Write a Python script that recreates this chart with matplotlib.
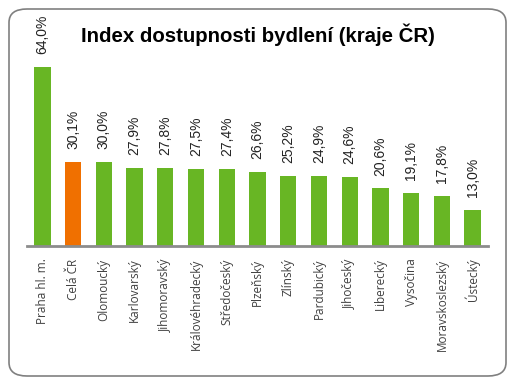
import matplotlib.pyplot as plt
from matplotlib.patches import FancyBboxPatch

# Data
kraje = ["Praha hl. m.", "Celá ČR", "Olomoucký", "Karlovarský", "Jihomoravský",
         "Královéhradecký", "Středočeský", "Plzeňský", "Zlínský", "Pardubický",
         "Jihočeský", "Liberecký", "Vysočina", "Moravskoslezský", "Ústecký"]
hodnoty = [64.0, 30.1, 30.0, 27.9, 27.8, 27.5, 27.4, 26.6, 25.2, 24.9,
           24.6, 20.6, 19.1, 17.8, 13.0]
zvyraznit = "Celá ČR"

green = "#68b624"
orange = "#f07000"

W, H = 515, 385
fig = plt.figure(figsize=(W / 100, H / 100), dpi=100)

# rounded frame
frame = FancyBboxPatch((9 / W, 9 / H), 497 / W, 367 / H,
                       boxstyle="round,pad=0,rounding_size=0.035",
                       transform=fig.transFigure, facecolor="none",
                       edgecolor="#808080", linewidth=1.2, zorder=-1)
fig.patches.append(frame)

# axes placed in pixels
left, right, base, top = 27, 488, 246, 67
ax = fig.add_axes([left / W, (H - base) / H, (right - left) / W, (base - top) / H])
ax.patch.set_visible(False)

n = len(kraje)
x = list(range(n))
colors = [orange if k == zvyraznit else green for k in kraje]
ax.bar(x, hodnoty, width=0.53, color=colors)

for xi, v in zip(x, hodnoty):
    ax.text(xi, v + 4.6, f"{v:.1f}%".replace(".", ","), rotation=90,
            ha="center", va="bottom", fontsize=10, color="#222222",
            family="Liberation Sans", clip_on=False)

ax.set_xlim(-0.5, n - 0.5)
ax.set_ylim(0, 64)
ax.set_xticks(x)
ax.set_xticklabels(kraje, rotation=90, fontsize=8.5, color="#404040",
                   family="Open Sans")
ax.tick_params(axis="x", length=0, pad=9)
ax.set_yticks([])
for s in ["top", "right", "left"]:
    ax.spines[s].set_visible(False)
ax.spines["bottom"].set_color("#8c8c8c")
ax.spines["bottom"].set_linewidth(2)

fig.text(258 / W, 1 - 35 / H, "Index dostupnosti bydlení (kraje ČR)",
         ha="center", va="center", fontsize=14.7, fontweight="bold",
         family="Liberation Sans", color="black")

fig.savefig("out.png", dpi=100)
